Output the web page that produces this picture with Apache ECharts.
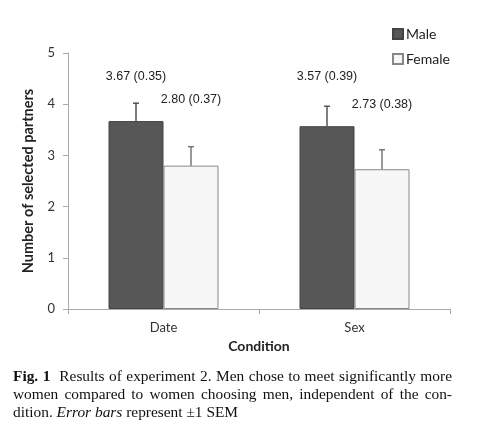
<!DOCTYPE html>
<html>
<head>
<meta charset="utf-8">
<script src="https://cdn.jsdelivr.net/npm/echarts@6/dist/echarts.min.js"></script>
<style>
  html, body { margin: 0; padding: 0; background: #fff; }
  #chart { width: 480px; height: 442px; position: absolute; left: 0; top: 0; }
  #caption {
    position: absolute; left: 13px; top: 367px; width: 439px;
    font-family: "Liberation Serif", "DejaVu Serif", serif;
    font-size: 15.4px; line-height: 18px; color: #111;
  }
  #caption .j { text-align: justify; text-align-last: justify; white-space: nowrap; }
</style>
</head>
<body>
<div id="chart"></div>
<div id="caption">
  <div class="j"><b>Fig. 1</b>&nbsp; Results of experiment 2. Men chose to meet significantly more</div>
  <div class="j">women compared to women choosing men, independent of the con-</div>
  <div>dition. <i>Error bars</i> represent ±1 SEM</div>
</div>
<script>
 var categories = ['Date', 'Sex'];
 var seriesNames = ['Male', 'Female'];
 var maleMean = [3.67, 3.57];
 var maleSem = [0.35, 0.39];
 var femaleMean = [2.80, 2.73];
 var femaleSem = [0.37, 0.38];
 var yTicks = [0, 1, 2, 3, 4, 5];

 var BAR_W = 55;
 var axisFont = 'Lato, "Liberation Sans", sans-serif';

 // 标签离柱顶的距离
 var labelDist = [[38, 43], [60, 58]];

 function makeBarSeries(idx, name, means, sems, fill, border) {
     return {
         name: name,
         type: 'bar',
         barWidth: BAR_W,
         barGap: '0%',
         itemStyle: { color: fill, borderColor: border, borderWidth: 1 },
         data: means.map(function (v, i) {
             return {
                 value: v,
                 label: {
                     show: true,
                     position: 'top',
                     distance: labelDist[idx][i],
                     formatter: v.toFixed(2) + ' (' + sems[i].toFixed(2) + ')',
                     fontFamily: '"Liberation Sans", Arial, sans-serif',
                     fontSize: 12.5,
                     color: '#222'
                 }
             };
         })
     };
 }

 function makeErrorSeries(idx, means, sems, color) {
     var side = idx === 0 ? -1 : 1;
     return {
         type: 'custom',
         silent: true,
         z: 5,
         data: means.map(function (v, i) { return [i, v, v + sems[i]]; }),
         renderItem: function (params, api) {
             var base = api.coord([api.value(0), api.value(1)]);
             var top = api.coord([api.value(0), api.value(2)]);
             var x = base[0] + side * BAR_W / 2;
             var style = { stroke: color, lineWidth: 1.5 };
             return {
                 type: 'group',
                 children: [
                     { type: 'line', shape: { x1: x, y1: base[1], x2: x, y2: top[1] }, style: style },
                     { type: 'line', shape: { x1: x - 3, y1: top[1], x2: x + 3, y2: top[1] }, style: style }
                 ]
             };
         }
     };
 }

 var option = {
     animation: false,
     backgroundColor: '#fff',
     grid: { left: 68, right: 30, top: 53, bottom: 133 },
     legend: {
         orient: 'vertical',
         left: 387,
         top: 22,
         itemWidth: 10,
         itemHeight: 10,
         itemGap: 11,
         icon: 'rect',
         data: seriesNames,
         textStyle: { fontFamily: axisFont, fontSize: 14, color: '#222', padding: [0, 0, 0, -2] }
     },
     xAxis: {
         type: 'category',
         data: categories,
         name: 'Condition',
         nameLocation: 'middle',
         nameGap: 30,
         nameTextStyle: { fontFamily: axisFont, fontSize: 14, fontWeight: 'bold', color: '#222' },
         axisLine: { lineStyle: { color: '#aaa', width: 1 } },
         axisTick: { show: true, length: 5, lineStyle: { color: '#aaa' } },
         axisLabel: { fontFamily: axisFont, fontSize: 13, color: '#333', margin: 12 }
     },
     yAxis: {
         type: 'value',
         min: yTicks[0],
         max: yTicks[yTicks.length - 1],
         interval: 1,
         name: 'Number of selected partners',
         nameLocation: 'middle',
         nameGap: 32,
         nameTextStyle: { fontFamily: axisFont, fontSize: 14.5, fontWeight: 'bold', color: '#222' },
         axisLine: { show: true, lineStyle: { color: '#aaa', width: 1 } },
         axisTick: { show: true, length: 5, lineStyle: { color: '#aaa' } },
         axisLabel: { fontFamily: axisFont, fontSize: 13, color: '#333', margin: 13 },
         splitLine: { show: false }
     },
     series: [
         makeBarSeries(0, seriesNames[0], maleMean, maleSem, '#575757', '#444'),
         makeBarSeries(1, seriesNames[1], femaleMean, femaleSem, '#f7f7f7', '#888'),
         makeErrorSeries(0, maleMean, maleSem, '#555'),
         makeErrorSeries(1, femaleMean, femaleSem, '#777')
     ]
 };

 var myChart = echarts.init(document.getElementById('chart'));
 myChart.setOption(option);
</script>
</body>
</html>
